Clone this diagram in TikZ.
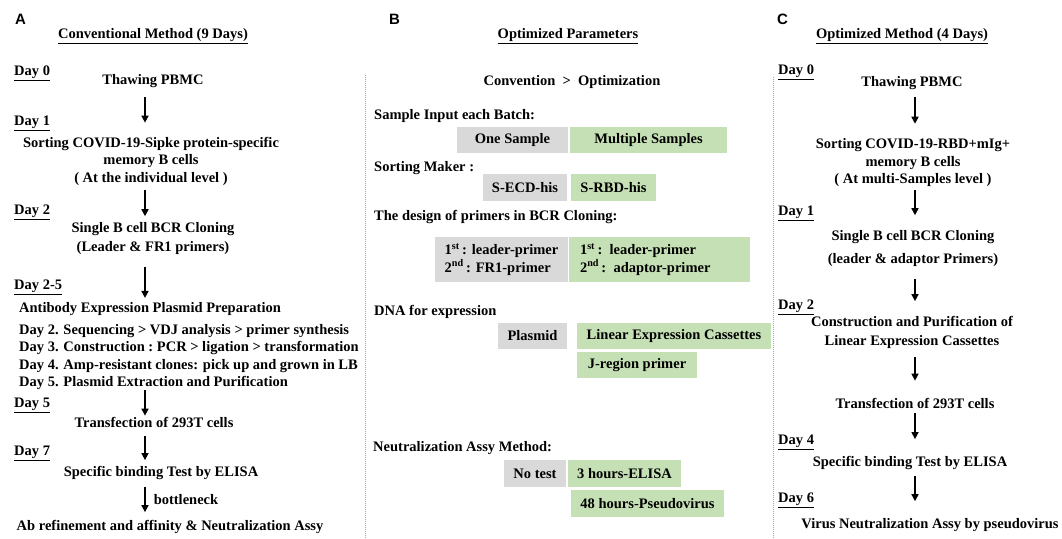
\documentclass[tikz,border=0pt]{standalone}
\usepackage{fontspec}
\setmainfont{Liberation Serif}
\newfontfamily\panelfont{Liberation Sans}
\usetikzlibrary{arrows.meta}
\definecolor{boxgray}{HTML}{D9D9D9}
\definecolor{boxgreen}{HTML}{C5E0B4}

\begin{document}
\begin{tikzpicture}[x=1pt,y=-1pt,font=\fontsize{14.5}{17.5}\selectfont\bfseries]
\tikzstyle{panel}=[font=\panelfont\fontsize{15}{15}\selectfont\bfseries,anchor=west,inner sep=0pt]
\tikzstyle{title}=[inner sep=1pt]
\tikzstyle{day}=[anchor=west,inner sep=0pt]
\tikzstyle{stepnode}=[align=center,inner sep=1pt]
\tikzstyle{flow}=[line width=1.5pt,-{Triangle[length=7pt,width=7pt]}]
\tikzstyle{oldbox}=[fill=boxgray,minimum height=26pt,inner sep=0pt]
\tikzstyle{newbox}=[fill=boxgreen,minimum height=26pt,inner sep=0pt]
\tikzstyle{param}=[anchor=west,inner sep=0pt]
\tikzstyle{sep}=[draw=gray!70,line width=0.6pt,dash pattern=on 1pt off 1pt]
\useasboundingbox (0,0) rectangle (1062,538);

\draw[sep] (365,75) -- (365,538);
\draw[sep] (773,77) -- (773,538);

% A
\node[panel] (lblA) at (15,19) {A};
\node[title] (titA) at (153,36) {\underline{Conventional Method (9 Days)}};
\node[day] (a0) at (14,73) {\underline{Day 0}};
\node[stepnode] (thawA) at (153,81) {Thawing PBMC};
\node[day] (a1) at (14,123) {\underline{Day 1}};
\node[stepnode] (sortA) at (151,161) {Sorting COVID-19-Sipke protein-specific\\memory B cells\\( At the individual level )};
\node[day] (a2) at (14,212) {\underline{Day 2}};
\node[stepnode] (cloneA) at (153,238.5) {Single B cell BCR Cloning\\[1.5pt](Leader \& FR1 primers)};
\node[day] (a25) at (14,287) {\underline{Day 2-5}};
\node[align=left,anchor=west,inner sep=0pt] (plasA) at (19,346) {Antibody Expression Plasmid Preparation\\[4.5pt]
Day 2. Sequencing > VDJ analysis > primer synthesis\\
Day 3. Construction\ :\ PCR > ligation > transformation\\
Day 4. Amp-resistant clones: pick up and grown in LB\\
Day 5. Plasmid Extraction and Purification};
\node[day] (a5) at (14,405) {\underline{Day 5}};
\node[stepnode] (transA) at (154,422) {Transfection of 293T cells};
\node[day] (a7) at (14,453) {\underline{Day 7}};
\node[stepnode] (elisaA) at (161,473) {Specific binding Test by ELISA};
\node[stepnode] (refA) at (170,527) {Ab refinement and affinity \& Neutralization Assy};
\coordinate (axA) at (145,0);
\draw[flow,shorten <=8pt,shorten >=13pt] (thawA.south -| axA) -- (sortA.north -| axA);
\draw[flow,shorten <=4pt,shorten >=5pt] (sortA.south -| axA) -- (cloneA.north -| axA);
\draw[flow,shorten <=11pt,shorten >=4pt] (cloneA.south -| axA) -- (plasA.north -| axA);
\draw[flow] (plasA.south -| axA) -- (transA.north -| axA);
\draw[flow,shorten <=8pt,shorten >=5pt] (transA.south -| axA) -- (elisaA.north -| axA);
\draw[flow,shorten <=6pt,shorten >=7pt] (elisaA.south -| axA) -- node[right,inner sep=8pt] {bottleneck} (refA.north -| axA);

% B
\node[panel] (lblB) at (389,19) {B};
\node[title] (titB) at (568,36) {\underline{Optimized Parameters}};
\node (cmp) at (572,82) {Convention\ \ >\ \ Optimization};
\node[param] (qSample) at (374,116) {Sample Input each Batch:};
\node[oldbox,minimum width=111pt] (one) at (512.5,140) {One Sample};
\node[newbox,minimum width=157pt] (multi) at (648.5,140) {Multiple Samples};
\node[param] (qMarker) at (374,168) {Sorting Maker :};
\node[oldbox,minimum width=84pt,minimum height=27pt] (secd) at (525,187.5) {S-ECD-his};
\node[newbox,minimum width=85pt,minimum height=27pt] (srbd) at (613.5,187.5) {S-RBD-his};
\node[param] (qPrimer) at (374,217) {The design of primers in BCR Cloning:};
\node[oldbox,minimum width=133pt,minimum height=45pt,align=left] (fr1) at (501.5,259.5) {1\textsuperscript{st}\,: leader-primer\\2\textsuperscript{nd}\,: FR1-primer};
\node[newbox,minimum width=181pt,minimum height=45pt,align=left,text width=159pt] (adp) at (659.5,259.5) {1\textsuperscript{st}\,: leader-primer\\2\textsuperscript{nd}\,: adaptor-primer};
\node[param] (qDNA) at (374,312) {DNA for expression};
\node[oldbox,minimum width=69pt] (plasmid) at (532.5,336) {Plasmid};
\node[newbox,minimum width=194pt] (linear) at (674,336) {Linear Expression Cassettes};
\node[newbox,minimum width=120pt] (jreg) at (637,365) {J-region primer};
\node[param] (qNeut) at (373,448) {Neutralization Assy Method:};
\node[oldbox,minimum width=62pt,minimum height=27pt] (notest) at (535,473.5) {No test};
\node[newbox,minimum width=113pt,minimum height=27pt] (elisa3) at (624.5,473.5) {3 hours-ELISA};
\node[newbox,minimum width=153pt,minimum height=27pt] (pseudo) at (647.5,503.5) {48 hours-Pseudovirus};

% C
\node[panel] (lblC) at (777,19) {C};
\node[title] (titC) at (902,36) {\underline{Optimized Method (4 Days)}};
\node[day] (c0) at (778,72) {\underline{Day 0}};
\node[stepnode] (thawC) at (912,83) {Thawing PBMC};
\node[stepnode] (sortC) at (913,163) {Sorting COVID-19-RBD+mIg+\\memory B cells\\( At multi-Samples level )};
\node[day] (c1) at (778,213) {\underline{Day 1}};
\node[stepnode] (cloneC) at (913,248.5) {Single B cell BCR Cloning\\[5.5pt](leader \& adaptor Primers)};
\node[day] (c2) at (778,307) {\underline{Day 2}};
\node[stepnode] (lecC) at (912,332.5) {Construction and Purification of\\[1.5pt]Linear Expression Cassettes};
\node[stepnode] (transC) at (915,403) {Transfection of 293T cells};
\node[day] (c4) at (778,442) {\underline{Day 4}};
\node[stepnode] (elisaC) at (910,463) {Specific binding Test by ELISA};
\node[day] (c6) at (778,500) {\underline{Day 6}};
\node[stepnode] (neutC) at (930,525) {Virus Neutralization Assy by pseudovirus};
\coordinate (axC) at (915,0);
\draw[flow,shorten <=6pt,shorten >=14pt] (thawC.south -| axC) -- (sortC.north -| axC);
\draw[flow,shorten <=2pt,shorten >=14pt] (sortC.south -| axC) -- (cloneC.north -| axC);
\draw[flow,shorten <=11pt,shorten >=14pt] (cloneC.south -| axC) -- (lecC.north -| axC);
\draw[flow,shorten <=7pt,shorten >=16pt] (lecC.south -| axC) -- (transC.north -| axC);
\draw[flow,shorten <=4pt,shorten >=16pt] (transC.south -| axC) -- (elisaC.north -| axC);
\draw[flow,shorten <=5pt,shorten >=16pt] (elisaC.south -| axC) -- (neutC.north -| axC);
\end{tikzpicture}
\end{document}
